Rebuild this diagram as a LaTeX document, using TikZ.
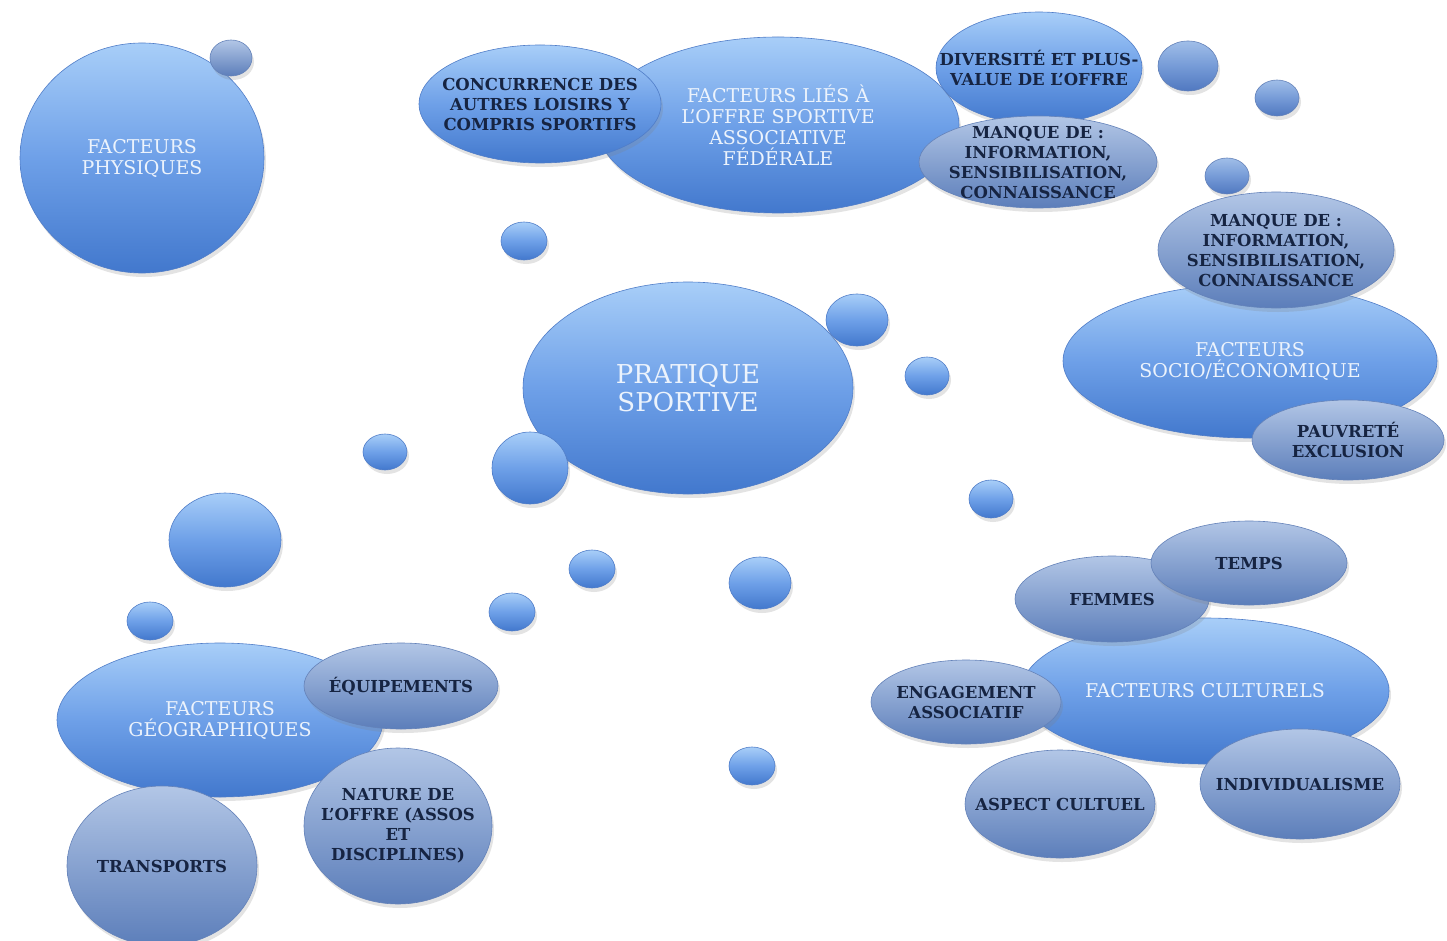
\documentclass[tikz,border=0pt]{standalone}
\usepackage{fontspec}
\setmainfont{DejaVu Serif}
\usetikzlibrary{shapes.geometric,shadows}
\definecolor{bt}{RGB}{168,206,248}
\definecolor{bm}{RGB}{110,160,232}
\definecolor{bb}{RGB}{66,120,205}
\definecolor{be}{RGB}{80,125,200}
\definecolor{gt}{RGB}{178,198,230}
\definecolor{gm}{RGB}{135,162,208}
\definecolor{gb}{RGB}{92,126,186}
\definecolor{ge}{RGB}{100,130,185}
\definecolor{mt}{RGB}{160,190,232}
\definecolor{mm}{RGB}{118,155,215}
\definecolor{mb}{RGB}{80,120,192}
\definecolor{darktxt}{RGB}{22,36,66}
\definecolor{lighttxt}{RGB}{236,243,252}
\tikzset{
  shade/.style={drop shadow={opacity=0.22,shadow xshift=2pt,shadow yshift=-4pt}},
  esize/.style 2 args={minimum width=#1pt,minimum height=#2pt},
  ellbase/.style={ellipse,inner xsep=-40pt,inner ysep=-25pt,line width=0.6pt,shade,align=center},
  mainell/.style={ellbase,top color=bt,bottom color=bb,middle color=bm,draw=be,text=lighttxt,font=\fontsize{19}{21}\selectfont},
  brightell/.style={mainell,text=darktxt,font=\fontsize{16.5}{20}\selectfont\bfseries},
  subell/.style={ellbase,top color=gt,bottom color=gb,middle color=gm,draw=ge,text=darktxt,font=\fontsize{16.5}{20}\selectfont\bfseries},
  bub/.style={ellipse,inner sep=0pt,top color=bt,bottom color=bb,middle color=bm,draw=be,line width=0.6pt,shade},
  mbub/.style={bub,top color=mt,bottom color=mb,middle color=mm,draw=ge},
  gbub/.style={bub,top color=gt,bottom color=gb,middle color=gm,draw=ge},
}
\begin{document}
\begin{tikzpicture}[x=1pt,y=-1pt]
\fill[white] (0,0) rectangle (1447,941);
\useasboundingbox (0,0) rectangle (1447,941);

% top-left
\node[mainell,esize={244}{230}] (phys) at (142,158) {FACTEURS\\PHYSIQUES};
\node[gbub,esize={42}{36}] (b1) at (231,58) {};

% top centre cluster
\node[mainell,esize={362}{176}] (offre) at (778,125) {FACTEURS LIÉS À\\L’OFFRE SPORTIVE\\ASSOCIATIVE\\FÉDÉRALE};
\node[brightell,esize={242}{118}] (conc) at (540,104) {CONCURRENCE DES\\AUTRES LOISIRS Y\\COMPRIS SPORTIFS};
\node[brightell,esize={206}{112}] (div) at (1039,68) {DIVERSITÉ ET PLUS-\\VALUE DE L’OFFRE};
\node[subell,esize={238}{92}] (manq1) at (1038,162) {MANQUE DE :\\INFORMATION,\\SENSIBILISATION,\\CONNAISSANCE};

% small bubbles
\node[mbub,esize={60}{50}] (b2) at (1188,66) {};
\node[mbub,esize={44}{36}] (b3) at (1277,98) {};
\node[mbub,esize={44}{36}] (b4) at (1227,176) {};
\node[bub,esize={46}{38}] (b5) at (524,241) {};
\node[bub,esize={44}{38}] (b6) at (927,376) {};
\node[bub,esize={44}{36}] (b7) at (385,452) {};
\node[bub,esize={44}{38}] (b8) at (991,499) {};
\node[bub,esize={112}{94}] (b9) at (225,540) {};
\node[bub,esize={46}{38}] (b10) at (592,569) {};
\node[bub,esize={62}{52}] (b11) at (760,583) {};
\node[bub,esize={46}{38}] (b12) at (150,621) {};
\node[bub,esize={46}{38}] (b13) at (512,612) {};
\node[bub,esize={46}{38}] (b14) at (752,766) {};

% centre
\node[mainell,esize={330}{212},font=\fontsize{26}{28}\selectfont] (prat) at (688,388) {PRATIQUE\\SPORTIVE};
\node[bub,esize={62}{52}] (b15) at (857,320) {};
\node[bub,esize={76}{72}] (b16) at (530,468) {};

% right: socio
\node[mainell,esize={374}{154}] (socio) at (1250,361) {FACTEURS\\SOCIO/ÉCONOMIQUE};
\node[subell,esize={236}{116}] (manq2) at (1276,250) {MANQUE DE :\\INFORMATION,\\SENSIBILISATION,\\CONNAISSANCE};
\node[subell,esize={192}{80}] (pauv) at (1348,440) {PAUVRETÉ\\EXCLUSION};

% left bottom: geo
\node[mainell,esize={326}{154}] (geo) at (220,720) {FACTEURS\\GÉOGRAPHIQUES};
\node[subell,esize={194}{86}] (equip) at (401,686) {ÉQUIPEMENTS};
\node[subell,esize={188}{156}] (nat) at (398,826) {NATURE DE\\L’OFFRE (ASSOS\\ET\\DISCIPLINES)};
\node[subell,esize={190}{160}] (trans) at (162,866) {TRANSPORTS};

% right bottom: culturels
\node[mainell,esize={368}{146}] (cult) at (1205,691) {FACTEURS CULTURELS};
\node[subell,esize={194}{86}] (fem) at (1112,599) {FEMMES};
\node[subell,esize={196}{84}] (temps) at (1249,563) {TEMPS};
\node[subell,esize={190}{84}] (eng) at (966,702) {ENGAGEMENT\\ASSOCIATIF};
\node[subell,esize={190}{108}] (asp) at (1060,804) {ASPECT CULTUEL};
\node[subell,esize={200}{110}] (indiv) at (1300,784) {INDIVIDUALISME};
\end{tikzpicture}
\end{document}
